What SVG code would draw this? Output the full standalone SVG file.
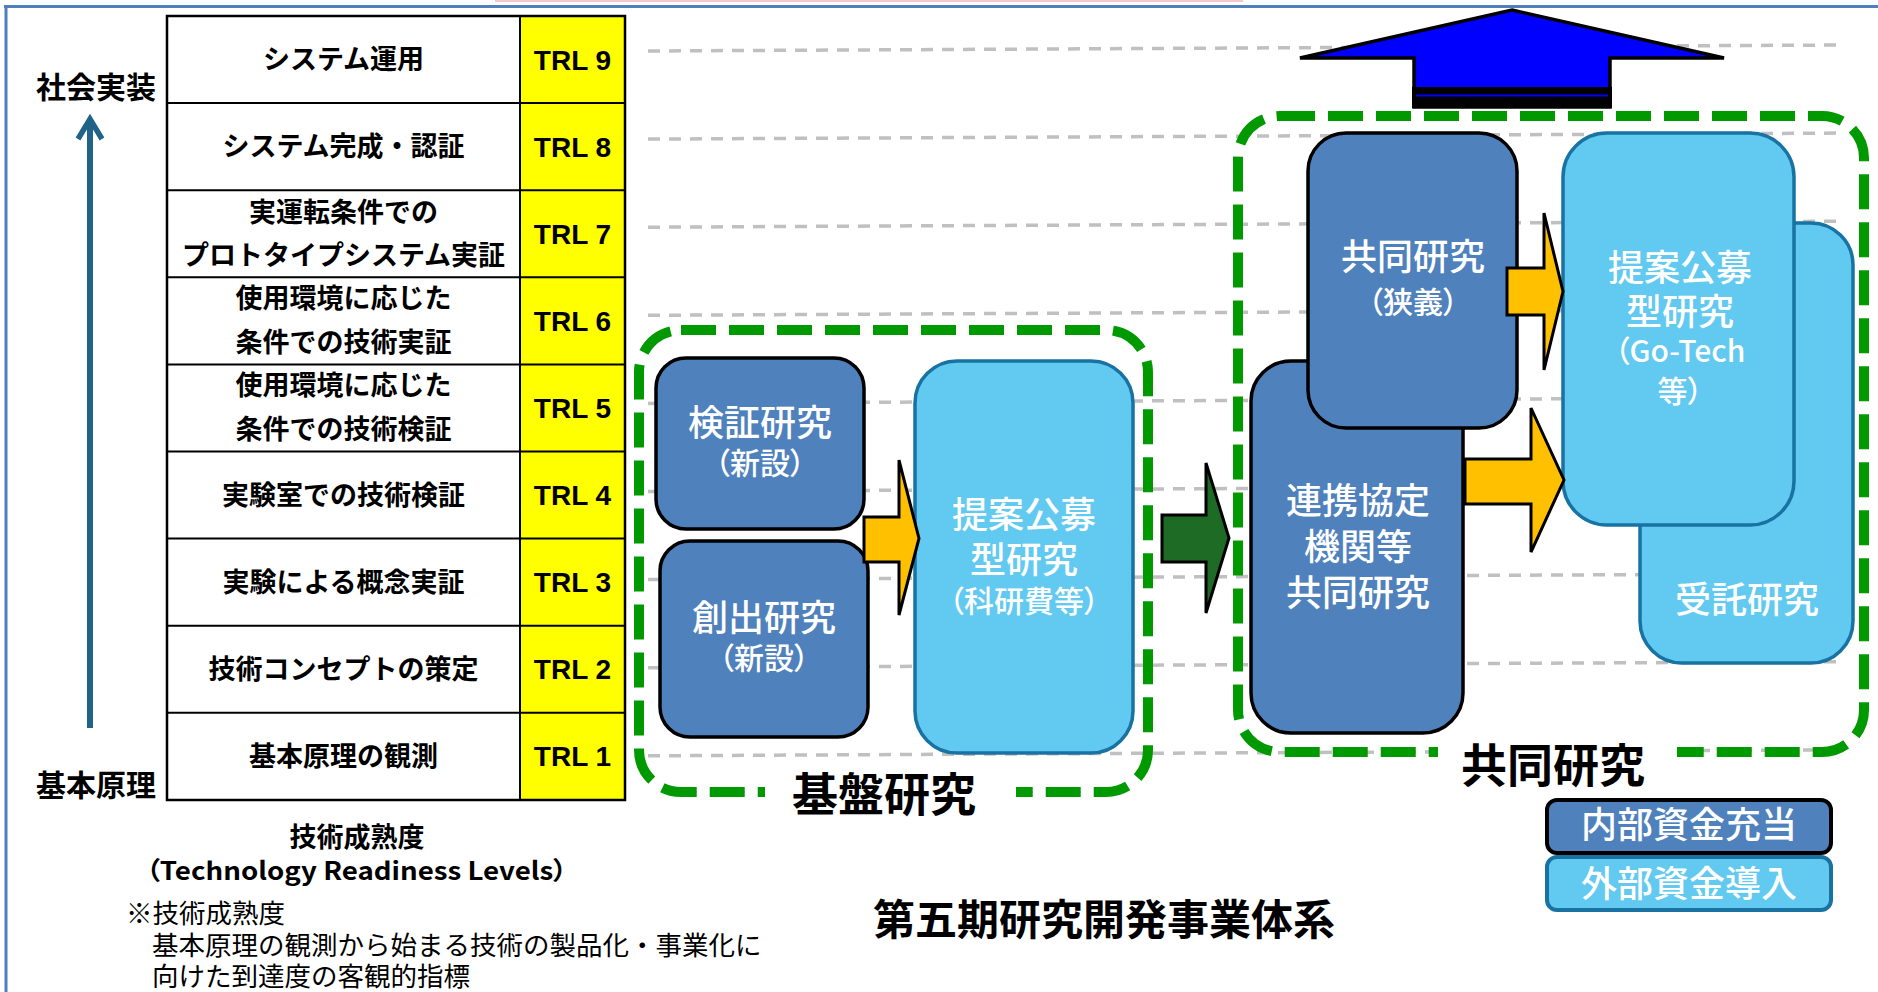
<svg xmlns="http://www.w3.org/2000/svg" width="1878" height="992" viewBox="0 0 1878 992">
<defs>
<style>
.jp{font-family:"Noto Sans CJK JP","Liberation Sans",sans-serif}
.cell{font-family:"Noto Sans CJK JP","Liberation Sans",sans-serif;font-size:27px;font-weight:bold;fill:#000;text-anchor:middle}
.trl{font-family:"Liberation Sans","Noto Sans CJK JP",sans-serif;font-size:28px;font-weight:bold;fill:#000;text-anchor:middle}
.wt{font-family:"Noto Sans CJK JP","Liberation Sans",sans-serif;font-weight:500;fill:#fff;text-anchor:middle;font-size:36px}
.wp{font-size:30px;font-feature-settings:"palt"}
.palt{font-feature-settings:"palt"}
.dark{fill:#4f81bd;stroke:#000;stroke-width:3.5}
.light{fill:#62c9f1;stroke:#1872a2;stroke-width:3.5}
.grp{fill:none;stroke:#009900;stroke-width:10;stroke-dasharray:35 13}
.grid{stroke:#c0c0c0;stroke-width:3.5;stroke-dasharray:12 9}
.arr{stroke:#000;stroke-width:3;stroke-linejoin:miter}
.lbl{font-family:"Noto Sans CJK JP","Liberation Sans",sans-serif;font-weight:bold;font-size:46px;fill:#000;text-anchor:middle}
</style>
</defs>
<rect x="0" y="0" width="1878" height="992" fill="#fff"/>
<!-- frame -->
<g id="frame">
<line x1="495" y1="1" x2="1243" y2="1" stroke="#f4c6cd" stroke-width="2"/>
<line x1="4" y1="6.5" x2="1878" y2="6.5" stroke="#4f7fbf" stroke-width="3"/>
<line x1="6" y1="5" x2="6" y2="992" stroke="#4f7fbf" stroke-width="3"/>
</g>
<!-- grid dashed lines -->
<g id="grid">
<line class="grid" x1="648" y1="51" x2="1840" y2="45"/>
<line class="grid" x1="648" y1="139.1" x2="1840" y2="133.1"/>
<line class="grid" x1="648" y1="227.2" x2="1840" y2="221.2"/>
<line class="grid" x1="648" y1="315.3" x2="1840" y2="309.3"/>
<line class="grid" x1="648" y1="403.4" x2="1840" y2="397.4"/>
<line class="grid" x1="648" y1="491.5" x2="1840" y2="485.5"/>
<line class="grid" x1="648" y1="579.6" x2="1840" y2="573.6"/>
<line class="grid" x1="648" y1="667.7" x2="1840" y2="661.7"/>
<line class="grid" x1="648" y1="755.8" x2="1840" y2="749.8"/>
</g>
<!-- TRL table -->
<g id="trl-table">
<rect x="520" y="16" width="105" height="784" fill="#ffff00"/>
<rect x="167" y="16" width="458" height="784" fill="none" stroke="#000" stroke-width="2.5"/>
<line x1="520" y1="16" x2="520" y2="800" stroke="#000" stroke-width="2"/>
<g stroke="#000" stroke-width="2">
<line x1="167" y1="103.1" x2="625" y2="103.1"/>
<line x1="167" y1="190.2" x2="625" y2="190.2"/>
<line x1="167" y1="277.3" x2="625" y2="277.3"/>
<line x1="167" y1="364.4" x2="625" y2="364.4"/>
<line x1="167" y1="451.5" x2="625" y2="451.5"/>
<line x1="167" y1="538.6" x2="625" y2="538.6"/>
<line x1="167" y1="625.7" x2="625" y2="625.7"/>
<line x1="167" y1="712.8" x2="625" y2="712.8"/>
</g>
<text class="cell" x="343.5" y="69">システム運用</text>
<text class="cell" x="343.5" y="156">システム完成・認証</text>
<text class="cell" x="343.5" y="222">実運転条件での</text>
<text class="cell" x="343.5" y="265">プロトタイプシステム実証</text>
<text class="cell" x="343.5" y="308">使用環境に応じた</text>
<text class="cell" x="343.5" y="352">条件での技術実証</text>
<text class="cell" x="343.5" y="395">使用環境に応じた</text>
<text class="cell" x="343.5" y="439">条件での技術検証</text>
<text class="cell" x="343.5" y="505">実験室での技術検証</text>
<text class="cell" x="343.5" y="592">実験による概念実証</text>
<text class="cell" x="343.5" y="679">技術コンセプトの策定</text>
<text class="cell" x="343.5" y="766">基本原理の観測</text>
<text class="trl" x="572.5" y="69.5">TRL 9</text>
<text class="trl" x="572.5" y="156.6">TRL 8</text>
<text class="trl" x="572.5" y="243.7">TRL 7</text>
<text class="trl" x="572.5" y="330.8">TRL 6</text>
<text class="trl" x="572.5" y="418">TRL 5</text>
<text class="trl" x="572.5" y="505">TRL 4</text>
<text class="trl" x="572.5" y="592">TRL 3</text>
<text class="trl" x="572.5" y="679">TRL 2</text>
<text class="trl" x="572.5" y="766">TRL 1</text>
</g>
<!-- left axis -->
<g id="axis">
<line x1="90" y1="728" x2="90" y2="121" stroke="#1f6388" stroke-width="6"/>
<polyline points="78,139 90,119 102,139" fill="none" stroke="#1f6388" stroke-width="5.5"/>
<text class="jp" x="96" y="98" font-size="30" font-weight="bold" text-anchor="middle">社会実装</text>
<text class="jp" x="96" y="796" font-size="30" font-weight="bold" text-anchor="middle">基本原理</text>
</g>
<!-- notes -->
<g id="notes">
<text class="jp" x="357" y="847" font-size="27" font-weight="bold" text-anchor="middle">技術成熟度</text>
<text class="jp palt" x="146" y="880" font-size="25" font-weight="bold" textLength="421" lengthAdjust="spacingAndGlyphs">（Technology Readiness Levels）</text>
<text class="jp" x="126" y="923" font-size="26.5">※技術成熟度</text>
<text class="jp" x="152" y="955" font-size="26.5">基本原理の観測から始まる技術の製品化・事業化に</text>
<text class="jp" x="152" y="986" font-size="26.5">向けた到達度の客観的指標</text>
<text class="jp" x="1104" y="935" font-size="42" font-weight="bold" text-anchor="middle">第五期研究開発事業体系</text>
</g>
<!-- group frames -->
<g id="kiban-group">
<rect class="grp" x="639" y="330" width="509" height="462" rx="42"/>
<rect x="765" y="780" width="251" height="24" fill="#fff"/>
<text class="lbl" x="884" y="811">基盤研究</text>
</g>
<g id="kyodo-group">
<rect class="grp" x="1238" y="116" width="626" height="636" rx="42"/>
<rect x="1438" y="742" width="239" height="22" fill="#fff"/>
<text class="lbl" x="1553" y="782">共同研究</text>
</g>
<!-- nodes -->
<g id="kensho">
<rect class="dark" x="656" y="358" width="208" height="171" rx="30"/>
<text class="wt" x="760" y="436">検証研究</text>
<text class="wt wp" x="760" y="474">（新設）</text>
</g>
<g id="soshutsu">
<rect class="dark" x="660" y="541" width="208" height="196" rx="30"/>
<text class="wt" x="764" y="631">創出研究</text>
<text class="wt wp" x="764" y="669">（新設）</text>
</g>
<g id="teian-kaken">
<rect class="light" x="915" y="361" width="218" height="392" rx="42"/>
<text class="wt" x="1024" y="528">提案公募</text>
<text class="wt" x="1024" y="573">型研究</text>
<text class="wt wp" x="1024" y="612">（科研費等）</text>
</g>
<g id="renkei">
<rect class="dark" x="1251" y="361" width="212" height="372" rx="40"/>
<text class="wt" x="1358" y="514">連携協定</text>
<text class="wt" x="1358" y="560">機関等</text>
<text class="wt" x="1358" y="606">共同研究</text>
</g>
<g id="kyodo-kyogi">
<rect class="dark" x="1308" y="133" width="209" height="295" rx="38"/>
<text class="wt" x="1413" y="270">共同研究</text>
<text class="wt wp" x="1413" y="313" font-size="34">（狭義）</text>
</g>
<g id="jutaku">
<rect class="light" x="1640" y="223" width="213" height="440" rx="42"/>
<text class="wt" x="1747" y="613">受託研究</text>
</g>
<g id="teian-gotech">
<rect class="light" x="1563" y="133" width="231" height="392" rx="44"/>
<text class="wt" x="1680" y="281">提案公募</text>
<text class="wt" x="1680" y="325">型研究</text>
<text class="wt wp" x="1680" y="362">（Go-Tech</text>
<text class="wt wp" x="1680" y="402">等）</text>
</g>
<!-- connectors -->
<g id="connectors">
<polygon class="arr" fill="#ffc000" points="864,517 899,517 899,460 919,538.5 899,615 899,562 864,562"/>
<polygon class="arr" fill="#1e6b25" points="1162,515 1206,515 1206,463 1229,538 1206,613 1206,562 1162,562"/>
<polygon class="arr" fill="#ffc000" points="1507,268 1544,268 1544,213 1563,291.5 1544,370 1544,315 1507,315"/>
<polygon class="arr" fill="#ffc000" points="1465,459 1531,459 1531,408 1564,480 1531,552 1531,504 1465,504"/>
<polygon fill="#0000ff" stroke="#000" stroke-width="3.5" stroke-linejoin="miter" points="1512,10 1724,58 1610,58 1610,107 1414,107 1414,58 1300,58"/>
<rect x="1412" y="87" width="200" height="21" fill="#000"/>
<line x1="1416" y1="95.5" x2="1608" y2="95.5" stroke="#0000ff" stroke-width="2"/>
</g>
<!-- legend -->
<g id="legend-internal">
<rect x="1547" y="800" width="284" height="53" rx="10" fill="#4f81bd" stroke="#000" stroke-width="4"/>
<text class="wt" x="1689" y="838">内部資金充当</text>
</g>
<g id="legend-external">
<rect x="1547" y="857" width="284" height="53" rx="10" fill="#62c9f1" stroke="#1872a2" stroke-width="4"/>
<text class="wt" x="1689" y="897">外部資金導入</text>
</g>
</svg>
